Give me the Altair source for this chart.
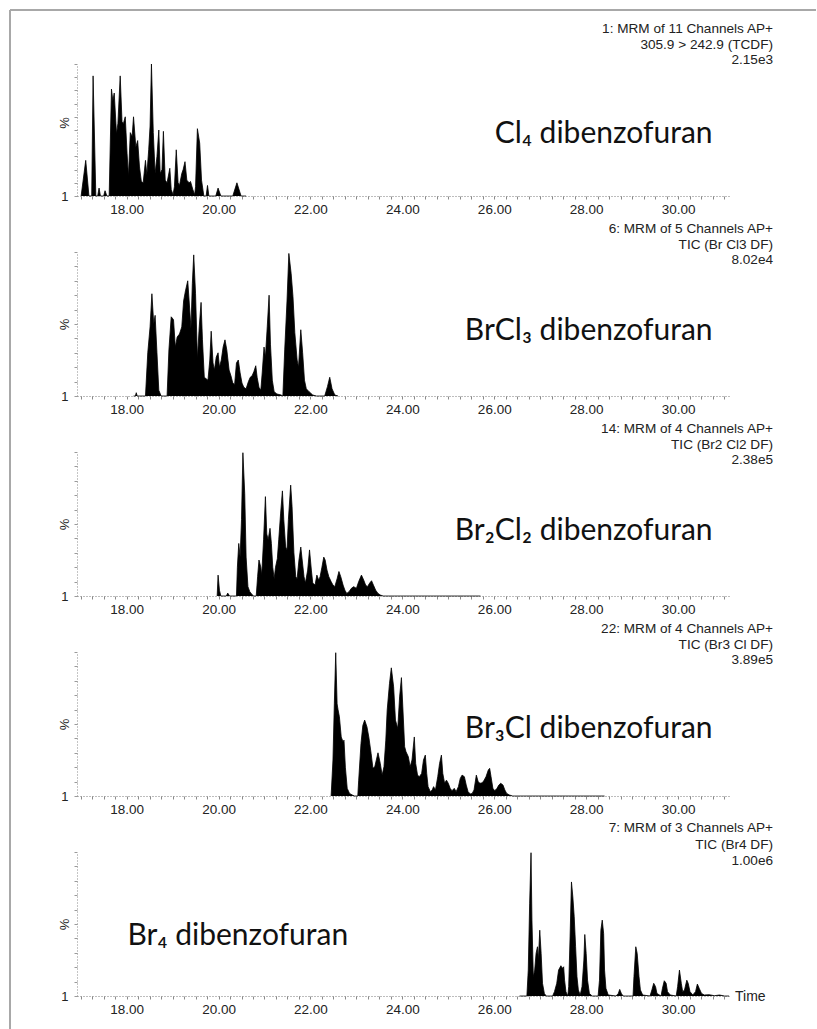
import altair as alt
import pandas as pd

# ---------------- data ----------------
X_DOMAIN = [16.92, 31.13]

cl4_time = [17.01, 17.11, 17.18, 17.24, 17.27, 17.33, 17.37, 17.40, 17.43, 17.50,
            17.53, 17.57, 17.62, 17.67, 17.70, 17.73, 17.78, 17.81, 17.86, 17.90,
            17.93, 17.97, 18.01, 18.04, 18.08, 18.12, 18.15, 18.20, 18.24, 18.28,
            18.32, 18.36, 18.41, 18.44, 18.48, 18.51, 18.54, 18.58, 18.62, 18.66,
            18.70, 18.73, 18.77, 18.80, 18.84, 18.88, 18.94, 18.97, 19.01, 19.04,
            19.08, 19.12, 19.15, 19.20, 19.23, 19.27, 19.31, 19.36, 19.39, 19.44,
            19.48, 19.50, 19.54, 19.59, 19.63, 19.68, 19.73, 19.76, 19.79, 19.94,
            19.99, 20.05, 20.31, 20.40, 20.49, 20.60]
cl4_pct = [0, 27, 0, 0, 91, 0, 0, 6, 0, 0,
           4, 0, 0, 81, 72, 78, 47, 55, 91, 56,
           55, 60, 32, 15, 48, 45, 60, 37, 42, 22,
           11, 10, 27, 16, 35, 53, 100, 48, 17, 30,
           50, 17, 20, 49, 12, 10, 21, 5, 1, 7,
           35, 10, 8, 17, 20, 26, 12, 10, 11, 5,
           1, 7, 51, 40, 12, 0, 0, 8, 0, 0,
           6, 0, 0, 10, 0, 0]

brcl3_time = [18.15, 18.19, 18.21, 18.23, 18.41, 18.46, 18.51, 18.55, 18.59, 18.62,
              18.66, 18.70, 18.75, 18.88, 18.92, 18.97, 19.02, 19.06, 19.10, 19.15,
              19.20, 19.24, 19.28, 19.33, 19.36, 19.40, 19.43, 19.46, 19.50, 19.54,
              19.58, 19.62, 19.65, 19.69, 19.73, 19.77, 19.81, 19.84, 19.88, 19.91,
              19.95, 19.99, 20.02, 20.06, 20.10, 20.14, 20.18, 20.23, 20.27, 20.31,
              20.35, 20.39, 20.43, 20.47, 20.51, 20.55, 20.60, 20.65, 20.69, 20.73,
              20.77, 20.81, 20.84, 20.88, 20.92, 20.95, 20.99, 21.02, 21.06, 21.10,
              21.13, 21.17, 21.21, 21.27, 21.36, 21.40, 21.44, 21.49, 21.53, 21.58,
              21.62, 21.66, 21.71, 21.74, 21.79, 21.83, 21.87, 21.91, 21.97, 22.05,
              22.13, 22.31, 22.37, 22.42, 22.47, 22.53, 22.60]
brcl3_pct = [0, 0, 2.3, 0, 0, 30, 48, 71, 50, 56,
             30, 4, 0, 0, 32, 55, 53, 34, 41, 43,
             48, 66, 73, 80, 66, 47, 78, 98, 71, 26,
             48, 65, 39, 13, 12, 11, 25, 45, 23, 18,
             27, 30, 20, 25, 34, 39, 32, 18, 14, 9,
             8, 23, 25, 16, 9, 6, 5, 10, 13, 14,
             17, 21, 13, 6, 4, 16, 34, 27, 48, 70,
             36, 11, 3, 1.4, 0.7, 0, 32, 66, 99, 85,
             69, 44, 25, 20, 46, 30, 11, 5, 3, 0.7,
             0, 0, 6.5, 13, 5, 0.7, 0]

br2cl2_time = [19.97, 19.99, 20.02, 20.05, 20.17, 20.20, 20.24, 20.39, 20.41, 20.44,
               20.47, 20.50, 20.53, 20.57, 20.60, 20.64, 20.68, 20.72, 20.76, 20.82,
               20.85, 20.88, 20.92, 20.94, 20.98, 21.02, 21.05, 21.08, 21.12, 21.15,
               21.18, 21.21, 21.24, 21.28, 21.31, 21.35, 21.39, 21.42, 21.46, 21.49,
               21.52, 21.57, 21.60, 21.64, 21.68, 21.71, 21.75, 21.79, 21.82, 21.86,
               21.89, 21.94, 21.98, 22.02, 22.05, 22.10, 22.14, 22.18, 22.21, 22.25,
               22.29, 22.32, 22.36, 22.40, 22.45, 22.49, 22.53, 22.58, 22.62, 22.66,
               22.71, 22.75, 22.79, 22.84, 22.89, 22.94, 23.00, 23.05, 23.11, 23.16,
               23.20, 23.24, 23.29, 23.33, 23.37, 23.42, 23.47, 23.52, 23.58, 25.70]
br2cl2_pct = [0, 14.5, 4, 0, 0, 2, 0, 0, 20, 36.5,
              27, 53, 99.5, 71, 27, 6.5, 3, 1.4, 0, 0,
              13.4, 25, 20, 14.5, 39, 69, 43, 39, 47, 36.5,
              20, 12, 20, 26, 39, 57, 73, 53, 34, 32,
              53, 77, 62, 30, 13.4, 12, 25, 34, 25, 13.4,
              9, 18, 32, 18, 9, 7.6, 14.5, 11, 13.4, 20,
              27, 25, 18, 13.4, 10, 7.6, 6.5, 12, 17, 13.4,
              7.6, 4, 1.8, 3, 5.3, 6.5, 5.3, 10, 14.5, 11,
              7.6, 6.5, 9, 10.6, 7.6, 4, 1.8, 0.7, 0, 0]

br3cl_time = [22.45, 22.49, 22.52, 22.55, 22.58, 22.60, 22.63, 22.67, 22.71, 22.73,
              22.76, 22.80, 22.85, 22.91, 22.96, 23.03, 23.05, 23.10, 23.14, 23.18,
              23.23, 23.27, 23.32, 23.36, 23.40, 23.45, 23.47, 23.52, 23.56, 23.60,
              23.64, 23.67, 23.72, 23.76, 23.81, 23.85, 23.90, 23.94, 23.98, 24.01,
              24.05, 24.08, 24.13, 24.17, 24.21, 24.26, 24.29, 24.33, 24.37, 24.42,
              24.46, 24.50, 24.53, 24.56, 24.61, 24.65, 24.68, 24.72, 24.77, 24.81,
              24.85, 24.88, 24.92, 24.96, 25.00, 25.04, 25.08, 25.13, 25.17, 25.22,
              25.26, 25.30, 25.35, 25.39, 25.43, 25.48, 25.52, 25.56, 25.61, 25.65,
              25.69, 25.74, 25.78, 25.82, 25.87, 25.90, 25.93, 25.97, 26.01, 26.06,
              26.10, 26.14, 26.19, 26.23, 26.27, 26.33, 26.40, 28.40]
br3cl_pct = [0, 25, 64, 99.5, 64, 60, 55, 41, 37.6, 38.8,
             20, 5.3, 1.8, 0.7, 0, 0, 11, 36.5, 49, 52.7,
             48, 41, 29.6, 19.2, 20.3, 27.3, 30, 22.6, 14.5, 20.3,
             38.8, 59.6, 78, 89, 75.8, 52.7, 46.9, 68.8, 82.2, 61.9,
             34.2, 30.7, 27.3, 20.3, 25, 41, 22.6, 14.5, 13.4, 15.7,
             25, 28.4, 15.7, 6.5, 3, 4.2, 6.5, 4.2, 13.4, 22.6,
             28.4, 15.7, 8.8, 11, 8.8, 5.3, 3.7, 5.3, 3, 6.5,
             12.2, 14.5, 13.4, 7.6, 3, 1.4, 1.8, 4.2, 14.5, 9.9,
             8.8, 9.2, 11, 13.4, 18, 19.2, 13.4, 5.3, 3.7, 5.3,
             7.6, 8.8, 7.6, 4.2, 1.8, 0.7, 0, 0]

br4_time = [26.55, 26.71, 26.74, 26.77, 26.80, 26.82, 26.85, 26.88, 26.91, 26.94,
            26.96, 26.99, 27.02, 27.05, 27.09, 27.13, 27.27, 27.31, 27.36, 27.40,
            27.45, 27.48, 27.51, 27.53, 27.56, 27.60, 27.62, 27.65, 27.68, 27.71,
            27.74, 27.77, 27.80, 27.83, 27.87, 27.91, 27.95, 27.97, 28.00, 28.03,
            28.07, 28.13, 28.26, 28.29, 28.32, 28.35, 28.38, 28.40, 28.43, 28.48,
            28.65, 28.70, 28.73, 28.77, 28.81, 29.02, 29.04, 29.08, 29.11, 29.15,
            29.18, 29.23, 29.39, 29.43, 29.47, 29.51, 29.54, 29.63, 29.66, 29.70,
            29.74, 29.77, 29.83, 29.96, 29.99, 30.03, 30.07, 30.10, 30.14, 30.19,
            30.22, 30.26, 30.32, 30.38, 30.42, 30.46, 30.51, 30.57, 30.68, 30.79,
            30.90, 31.01, 31.11]
br4_pct = [0, 0, 18, 64, 99.5, 52.7, 13.4, 18, 29.6, 34.2,
           25, 45.7, 29.6, 8.8, 1.8, 0, 0, 3, 8.8, 18,
           21, 19.2, 20.3, 11, 3, 0, 6.5, 41, 79.2, 68.8,
           55, 34.2, 13.4, 4.2, 0.7, 6.5, 25, 42.7, 29.6, 11,
           1.8, 0, 0, 11, 45.7, 52.7, 43.4, 18, 5.3, 0.7,
           0, 1.8, 4.6, 1.4, 0, 0, 13.4, 34.2, 29.6, 13.4,
           4.2, 0.7, 0, 4.2, 8.8, 6.5, 1.8, 0, 5.3, 10.6,
           8.8, 3, 0.7, 0, 6.5, 18, 8.8, 3, 4.2, 11,
           8.8, 3, 0.7, 3, 8.3, 5.3, 1.8, 0.7, 0.9, 0.2,
           0.7, 0, 0]

headers = [
    ["1: MRM of 11 Channels AP+", "305.9 > 242.9 (TCDF)", "2.15e3"],
    ["6: MRM of 5 Channels AP+", "TIC (Br Cl3 DF)", "8.02e4"],
    ["14: MRM of 4 Channels AP+", "TIC (Br2 Cl2 DF)", "2.38e5"],
    ["22: MRM of 4 Channels AP+", "TIC (Br3 Cl DF)", "3.89e5"],
    ["7: MRM of 3 Channels AP+", "TIC (Br4 DF)", "1.00e6"],
]
compound_labels = ["Cl\u2084 dibenzofuran", "BrCl\u2083 dibenzofuran",
                   "Br\u2082Cl\u2082 dibenzofuran", "Br\u2083Cl dibenzofuran",
                   "Br\u2084 dibenzofuran"]
label_time = [30.75, 30.75, 30.75, 30.75, 18.02]
label_pct = [40, 39, 39, 40, 35.4]
label_align = ["right", "right", "right", "right", "left"]

x_tick_values = [17.0, 17.25, 17.5, 17.75, 18.0, 18.25, 18.5, 18.75, 19.0, 19.25,
                 19.5, 19.75, 20.0, 20.25, 20.5, 20.75, 21.0, 21.25, 21.5, 21.75,
                 22.0, 22.25, 22.5, 22.75, 23.0, 23.25, 23.5, 23.75, 24.0, 24.25,
                 24.5, 24.75, 25.0, 25.25, 25.5, 25.75, 26.0, 26.25, 26.5, 26.75,
                 27.0, 27.25, 27.5, 27.75, 28.0, 28.25, 28.5, 28.75, 29.0, 29.25,
                 29.5, 29.75, 30.0, 30.25, 30.5, 30.75, 31.0]
y_tick_values = [0, 10, 20, 30, 40, 50, 60, 70, 80, 90, 100]

series = [(cl4_time, cl4_pct), (brcl3_time, brcl3_pct), (br2cl2_time, br2cl2_pct),
          (br3cl_time, br3cl_pct), (br4_time, br4_pct)]

# ---------------- layout ----------------
PLOT_W = 653
HEIGHTS = [132, 144, 144, 144, 144]
HEADER_OFFS = [[-35, -19, -4], [-23, -7, 8], [-23, -7, 8], [-23, -7, 8], [-24, -7, 9]]
AXIS_FONT = "Liberation Sans"
LABEL_FONT = "Lato, Noto Sans"


def make_panel(i):
    t, p = series[i]
    h = HEIGHTS[i]
    df = pd.DataFrame({"t": t, "p": p})
    xenc = alt.X("t:Q", scale=alt.Scale(domain=X_DOMAIN, nice=False, zero=False),
                 axis=alt.Axis(values=x_tick_values,
                               labelExpr="datum.value % 2 == 0 ? format(datum.value, '.2f') : ''",
                               labelOverlap=False, labelFlush=False,
                               tickSize=3, tickColor="#8a8a8a", tickWidth=1,
                               domainColor="#7a7a7a", domainDash=[1, 2], domainWidth=1,
                               labelFont=AXIS_FONT, labelFontSize=13.5, labelColor="#222",
                               labelPadding=3, grid=False, title=None))
    yenc = alt.Y("p:Q", scale=alt.Scale(domain=[0, 100], nice=False, zero=True),
                 axis=alt.Axis(values=y_tick_values,
                               labelExpr="datum.value == 0 ? '1' : ''",
                               labelOverlap=False, labelFlush=False,
                               tickSize=3, tickColor="#9a9a9a", tickWidth=1,
                               domainColor="#8a8a8a", domainDash=[1, 2], domainWidth=1,
                               labelFont=AXIS_FONT, labelFontSize=13, labelColor="#222",
                               labelPadding=6, grid=False,
                               title="%", titleFont=AXIS_FONT, titleFontSize=13,
                               titleFontWeight="normal", titleColor="#222",
                               titleX=-13, titleY=(h / 2 if i else 58.5),
                               titleBaseline="middle", titleAngle=270))
    area = alt.Chart(df).mark_area(color="black", interpolate="linear").encode(x=xenc, y=yenc)
    line = alt.Chart(df).mark_line(color="black", strokeWidth=0.8).encode(x=xenc, y=yenc)

    ldf = pd.DataFrame({"t": [label_time[i]], "p": [label_pct[i]], "txt": [compound_labels[i]]})
    label = alt.Chart(ldf).mark_text(font=LABEL_FONT, fontSize=30, align=label_align[i],
                                     baseline="alphabetic", color="#111").encode(
        x=xenc, y=yenc, text="txt:N")

    layers = [area, line, label]
    one = alt.Data(values=[{"a": 0}])
    for txt, off in zip(headers[i], HEADER_OFFS[i]):
        layers.append(alt.Chart(one).mark_text(font=AXIS_FONT, fontSize=13.6, align="right",
                                               baseline="middle", color="#222").encode(
            x=alt.value(PLOT_W + 43), y=alt.value(off), text=alt.value(txt)))
    if i == 4:
        layers.append(alt.Chart(one).mark_text(font=AXIS_FONT, fontSize=14, align="left",
                                               baseline="middle", color="#222").encode(
            x=alt.value(PLOT_W + 5), y=alt.value(h + 1), text=alt.value("Time")))
    if i == 0:
        # gray frame of the original figure
        layers.append(alt.Chart(one).mark_rule(color="#a8a8a8", strokeWidth=2).encode(
            x=alt.value(-67), x2=alt.value(739), y=alt.value(-54)))
        layers.append(alt.Chart(one).mark_rule(color="#a8a8a8", strokeWidth=2).encode(
            x=alt.value(-67), y=alt.value(-54), y2=alt.value(975)))
    return alt.layer(*layers).properties(width=PLOT_W, height=h)


chart = alt.vconcat(*[make_panel(i) for i in range(5)], spacing=56, bounds="flush").properties(
    padding={"left": 9, "top": 9, "right": 0, "bottom": 0},
    background="white",
).configure_view(stroke=None)

chart.save("out.html", embed_options={"renderer": "svg", "actions": False})
